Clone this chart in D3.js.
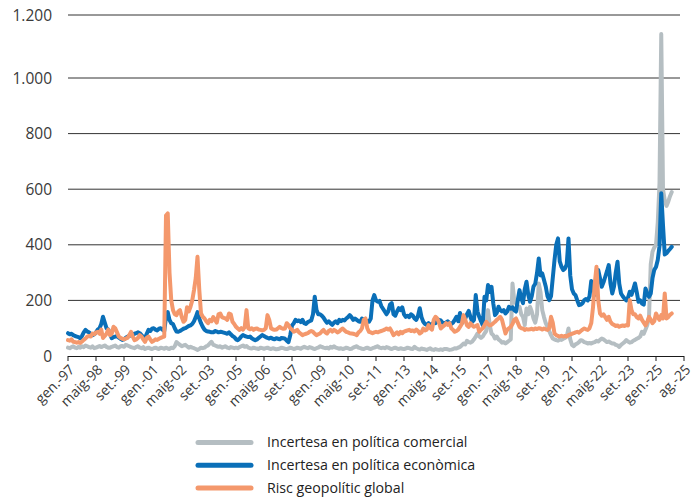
<!DOCTYPE html>
<html><head><meta charset="utf-8">
<script src="https://cdn.jsdelivr.net/npm/d3@7"></script>
<style>
html,body{margin:0;padding:0;background:#fff;}
svg{display:block;font-family:"Open Sans",sans-serif;}
</style></head>
<body><svg id="c" width="696" height="500"></svg>
<script>
// ---- data (monthly, gen.-97 ... oct.-25) ----
const startYear = 1997;
const seriesNames = ["Incertesa en política comercial", "Incertesa en política econòmica", "Risc geopolític global"];
const seriesColors = ["#b5bec2", "#0a6fb8", "#f4986c"];

const tradePolicy = [
 30,28,32,35,30,28,33,30,35,32,38,35,
 32,30,35,28,30,33,36,32,35,38,33,30,
 30,33,35,38,32,30,35,36,33,40,38,35,
 32,30,28,33,35,30,28,32,25,28,30,27,
 25,28,30,27,25,30,28,26,30,27,25,30,
 28,35,50,45,40,35,38,40,35,30,33,30,
 28,25,22,25,30,28,30,35,38,45,51,40,
 38,35,33,35,30,33,35,30,28,32,30,28,
 30,28,32,35,38,33,36,30,28,27,30,28,
 27,25,30,28,26,28,30,27,25,28,26,24,
 25,27,30,28,26,25,27,30,28,25,27,30,
 28,26,30,33,30,28,32,30,27,25,28,30,
 35,33,30,28,30,27,33,30,35,30,28,26,
 28,25,27,30,28,25,26,30,33,35,30,28,
 26,25,28,30,27,25,28,30,33,35,30,28,
 30,28,32,30,27,25,28,30,27,25,28,26,
 25,27,30,28,26,25,33,28,25,23,27,25,
 24,22,25,28,23,22,25,23,22,24,22,25,
 25,24,22,23,25,28,27,30,33,38,45,42,
 55,50,48,52,60,70,81,70,65,70,81,90,
 165,110,81,75,63,70,60,55,48,50,45,50,
 55,60,261,200,189,180,177,150,141,111,171,150,
 177,160,135,120,150,261,230,165,140,118,105,90,
 75,63,60,57,55,60,58,62,65,70,99,60,
 40,35,42,45,50,57,55,50,48,45,47,45,
 48,50,55,52,58,63,60,55,50,52,48,45,
 45,40,38,33,40,45,50,57,52,48,50,55,
 58,62,65,70,87,80,95,111,140,330,375,390,
 400,480,620,1140,600,560,540,555,575,590
];

const economicPolicy = [
 82,78,80,75,72,70,68,64,72,85,94,88,
 85,80,75,78,85,95,100,115,141,120,100,95,
 80,64,68,70,72,66,62,58,60,65,70,72,
 75,78,80,82,85,82,75,68,64,80,94,90,
 98,100,95,92,98,100,95,90,140,158,130,118,
 115,100,88,87,90,94,98,100,104,108,110,115,
 125,140,158,135,118,105,95,90,88,87,85,85,
 90,88,85,87,86,84,82,80,85,78,72,68,
 60,57,62,70,75,72,70,68,70,64,60,57,
 60,65,70,75,72,68,65,63,66,62,60,64,
 62,60,65,64,62,55,50,75,110,118,130,125,
 128,122,130,118,115,122,125,128,150,213,165,150,
 150,145,138,128,120,125,118,112,120,125,118,130,
 125,130,128,135,140,147,140,130,135,130,125,123,
 135,130,128,125,123,135,200,219,200,195,198,180,
 170,160,150,160,185,190,150,145,160,172,165,175,
 150,141,145,140,150,145,135,130,145,172,140,123,
 115,112,118,111,115,120,118,125,130,128,120,118,
 120,125,118,115,120,130,141,125,155,118,125,135,
 150,162,140,123,130,219,160,141,125,111,213,200,
 255,230,249,190,147,155,177,165,160,165,153,160,
 177,170,175,165,160,200,237,208,190,240,267,220,
 195,215,250,260,298,351,290,297,273,250,215,201,
 215,280,345,400,423,340,321,309,315,330,423,290,
 240,225,219,200,183,185,190,201,205,200,215,270,
 250,220,240,309,280,249,265,285,305,327,260,225,
 250,300,339,260,225,215,207,200,210,231,220,240,
 261,230,195,200,189,185,243,225,213,225,280,310,
 320,345,395,585,470,365,370,378,385,393
];

const geopoliticalRisk = [
 57,55,60,51,50,48,50,47,52,58,63,70,
 72,70,81,78,85,87,80,95,65,72,80,95,
 75,80,105,100,85,70,65,62,60,63,65,75,
 87,70,57,60,65,75,70,60,51,65,70,60,
 51,55,60,58,62,65,68,70,505,513,300,200,
 165,150,147,160,165,140,123,130,175,160,177,200,
 237,280,357,240,153,141,135,125,118,130,125,140,
 130,120,150,153,140,137,135,130,153,150,123,115,
 105,99,94,100,95,105,165,100,96,100,94,98,
 99,95,94,92,94,100,147,130,100,96,94,95,
 100,105,100,98,99,118,111,100,95,87,90,94,
 85,80,75,78,80,82,87,90,87,80,75,78,
 81,88,94,85,81,90,94,88,94,90,85,88,
 95,99,92,87,85,82,81,80,78,75,85,90,
 100,130,135,100,87,85,82,85,87,85,88,90,
 92,95,99,95,99,88,75,80,85,78,87,82,
 88,90,92,94,90,92,88,95,90,81,85,99,
 92,95,111,100,95,130,141,135,120,99,105,110,
 118,112,118,100,94,87,90,95,105,115,147,130,
 110,105,118,110,105,108,111,87,95,100,111,123,
 115,110,112,118,123,130,135,141,130,105,81,95,
 100,105,115,130,135,120,105,100,99,94,97,95,
 96,98,95,99,97,100,99,95,99,96,94,100,
 141,120,81,75,72,70,73,70,72,70,75,78,
 80,82,85,87,84,90,95,99,96,94,100,118,
 175,260,321,200,153,145,150,140,130,141,123,115,
 112,108,110,105,108,110,108,111,110,201,165,150,
 150,140,135,145,130,120,110,123,141,130,118,125,
 153,140,130,147,135,225,135,140,148,153
];

const xTickLabels = ["gen.-97","maig-98","set.-99","gen.-01","maig-02","set.-03","gen.-05","maig-06","set.-07","gen.-09","maig-10","set.-11","gen.-13","maig-14","set.-15","gen.-17","maig-18","set.-19","gen.-21","maig-22","set.-23","gen.-25","ag.-25"];
const tickStep = 16;
const yTicks = [0, 200, 400, 600, 800, 1000, 1200];

// ---- drawing ----
const svg = d3.select("#c");
const series = [tradePolicy, economicPolicy, geopoliticalRisk];

const x = d3.scaleLinear().domain([0, tickStep * (xTickLabels.length - 1)]).range([68, 684]);
const y = d3.scaleLinear().domain([0, 1000, 1200]).range([356, 78, 15]);
const fmt = d3.formatLocale({decimal: ",", thousands: ".", grouping: [3], currency: ["", " €"]}).format(",d");

// grid
svg.append("g").selectAll("line").data(yTicks.filter(d => d > 0)).join("line")
  .attr("x1", 68).attr("x2", 680)
  .attr("y1", d => y(d)).attr("y2", d => y(d))
  .attr("stroke", "#333").attr("stroke-width", 1);

// y labels
svg.append("g").selectAll("text").data(yTicks).join("text")
  .attr("x", 52).attr("y", d => y(d)).attr("dy", "0.36em")
  .attr("text-anchor", "end").attr("font-size", 15.5).attr("fill", "#3a3a3a")
  .text(d => fmt(d));

// lines
const line = d3.line().x((d, i) => x(i)).y(d => y(d));
svg.append("g").selectAll("path").data(series).join("path")
  .attr("d", line).attr("fill", "none")
  .attr("stroke", (d, i) => seriesColors[i]).attr("stroke-width", 4)
  .attr("stroke-linejoin", "round").attr("stroke-linecap", "round");

// x axis
const xa = svg.append("g");
xa.append("line").attr("x1", 68).attr("x2", 684).attr("y1", 356.5).attr("y2", 356.5)
  .attr("stroke", "#1a1a1a").attr("stroke-width", 1.2);
const tickIdx = xTickLabels.map((l, i) => i * tickStep);
xa.selectAll("line.t").data(tickIdx).join("line").attr("class", "t")
  .attr("x1", d => x(d)).attr("x2", d => x(d)).attr("y1", 356).attr("y2", 361)
  .attr("stroke", "#1a1a1a").attr("stroke-width", 1);
xa.selectAll("text").data(xTickLabels).join("text")
  .attr("transform", (d, i) => `translate(${x(i * tickStep) + 4},${367}) rotate(-45)`)
  .attr("text-anchor", "end").attr("dy", "0.35em")
  .attr("font-size", 14).attr("fill", "#3a3a3a").text(d => d);

// legend
const lg = svg.append("g");
seriesNames.forEach((name, i) => {
  const ly = 442.5 + i * 22.7;
  lg.append("line").attr("x1", 198).attr("x2", 251).attr("y1", ly).attr("y2", ly)
    .attr("stroke", seriesColors[i]).attr("stroke-width", 5).attr("stroke-linecap", "round");
  lg.append("text").attr("x", 267).attr("y", ly).attr("dy", "0.35em")
    .attr("font-size", 14.2).attr("fill", "#222").text(name);
});
</script></body></html>
